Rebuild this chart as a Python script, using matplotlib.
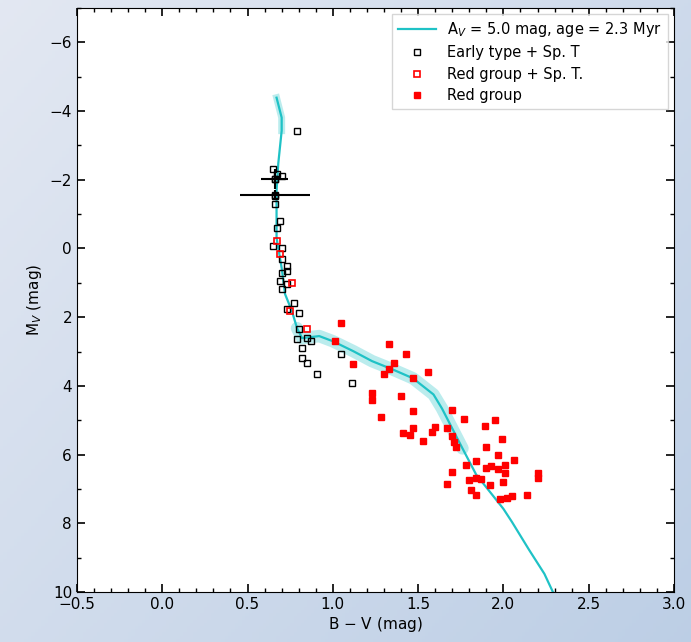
import numpy as np
import matplotlib
matplotlib.use("Agg")
import matplotlib.pyplot as plt
from matplotlib.ticker import MultipleLocator

# isochrone (Av = 5.0 mag, age = 2.3 Myr)
iso_bv = [0.67, 0.70, 0.70, 0.68, 0.67, 0.67, 0.67, 0.70, 0.72, 0.76, 0.79, 0.82,
          0.92, 1.00, 1.12, 1.23, 1.35, 1.47, 1.59, 1.64, 1.70, 1.76, 1.84, 1.92,
          2.00, 2.05, 2.15, 2.24, 2.29]
iso_mv = [-4.39, -3.81, -3.43, -2.47, -1.68, -0.95, -0.31, 0.57, 1.33, 1.82, 2.32, 2.61,
          2.55, 2.70, 2.99, 3.28, 3.52, 3.78, 4.25, 4.66, 5.24, 5.82, 6.58, 7.08,
          7.58, 7.96, 8.77, 9.47, 10.0]

# early type stars with spectral type
early_bv = [0.79, 0.65, 0.67, 0.70, 0.66, 0.66, 0.66, 0.69, 0.67, 0.65, 0.70, 0.70,
            0.73, 0.70, 0.73, 0.69, 0.73, 0.70, 0.77, 0.73, 0.80, 0.80, 0.85, 0.79,
            0.87, 0.82, 0.82, 0.85, 1.05, 0.91, 1.11]
early_mv = [-3.43, -2.32, -2.18, -2.12, -2.03, -1.53, -1.30, -0.80, -0.60, -0.07, 0.00, 0.31,
            0.51, 0.72, 0.66, 0.95, 1.04, 1.18, 1.59, 1.77, 1.88, 2.35, 2.61, 2.64,
            2.70, 2.91, 3.20, 3.34, 3.08, 3.66, 3.93]

# two stars with error bars
err_bv = [0.66, 0.66]
err_mv = [-1.56, -2.02]
err_xerr = [0.205, 0.08]
err_yerr = [0.15, 0.30]

# red group stars with spectral type
redsp_bv = [0.67, 0.69, 0.76, 0.75, 0.85]
redsp_mv = [-0.22, 0.16, 1.01, 1.82, 2.35]

# red group
red_bv = [1.05, 1.01, 1.33, 1.43, 1.12, 1.36, 1.33, 1.30, 1.47, 1.56, 1.23, 1.23,
          1.40, 1.47, 1.28, 1.70, 1.77, 1.95, 1.89, 1.41, 1.45, 1.47, 1.58, 1.60,
          1.67, 1.53, 1.70, 1.71, 1.72, 1.99, 1.90, 1.97, 2.06, 1.78, 1.84, 1.90,
          1.93, 1.97, 2.01, 1.70, 2.01, 1.67, 1.80, 1.84, 1.87, 1.92, 2.00, 1.81,
          1.84, 1.98, 2.02, 2.05, 2.14, 2.20, 2.20]
red_mv = [2.18, 2.70, 2.79, 3.08, 3.37, 3.34, 3.52, 3.66, 3.78, 3.61, 4.22, 4.42,
          4.28, 4.74, 4.92, 4.69, 4.95, 4.98, 5.18, 5.36, 5.42, 5.24, 5.33, 5.21,
          5.24, 5.59, 5.47, 5.62, 5.77, 5.56, 5.77, 6.00, 6.15, 6.29, 6.20, 6.38,
          6.32, 6.41, 6.29, 6.50, 6.55, 6.85, 6.73, 6.67, 6.70, 6.88, 6.79, 7.02,
          7.17, 7.28, 7.26, 7.20, 7.17, 6.55, 6.67]

cyan = '#1fc2c6'

fig = plt.figure(figsize=(6.91, 6.42), dpi=100)

# soft blue-grey gradient behind everything
bg = fig.add_axes([0, 0, 1, 1], zorder=-10)
gx, gy = np.meshgrid(np.linspace(0, 1, 200), np.linspace(0, 1, 200))
g = 0.55 * gx + 0.45 * gy
c0 = np.array([0.89, 0.91, 0.95])
c1 = np.array([0.74, 0.81, 0.90])
bg.imshow(c0 + g[..., None] * (c1 - c0), aspect='auto', extent=[0, 1, 0, 1])
bg.axis('off')

ax = fig.add_axes([0.1114, 0.0779, 0.864, 0.9096])
ax.set_facecolor('white')

# wide faint band along the isochrone, then the line itself
ax.plot(iso_bv[10:22], iso_mv[10:22], color=cyan, lw=9, alpha=0.3, solid_capstyle='round')
ax.plot(iso_bv[:3], iso_mv[:3], color=cyan, lw=5, alpha=0.3)
ax.plot(iso_bv, iso_mv, color=cyan, lw=1.6, label=r'A$_V$ = 5.0 mag, age = 2.3 Myr')

ax.plot(early_bv, early_mv, 's', ms=4.5, mfc='none', mec='black', mew=1.0,
        label='Early type + Sp. T')
ax.errorbar(err_bv, err_mv, xerr=err_xerr, yerr=err_yerr, fmt='s', ms=4.5,
            mfc='none', mec='black', ecolor='black', elinewidth=1.5, capsize=0)
ax.plot(redsp_bv, redsp_mv, 's', ms=5, mfc='none', mec='red', mew=1.2,
        label='Red group + Sp. T.')
ax.plot(red_bv, red_mv, 's', ms=5, color='red', mec='red', label='Red group')

ax.set_xlim(-0.5, 3.0)
ax.set_ylim(10, -7)
ax.xaxis.set_major_locator(MultipleLocator(0.5))
ax.xaxis.set_minor_locator(MultipleLocator(0.1))
ax.yaxis.set_major_locator(MultipleLocator(2))
ax.yaxis.set_minor_locator(MultipleLocator(1))
ax.tick_params(which='both', direction='in', top=True, right=True, labelsize=11)
ax.tick_params(which='major', length=6, width=1.2)
ax.tick_params(which='minor', length=3, width=1)

ax.set_xlabel('B $-$ V (mag)', fontsize=11, labelpad=2)
ax.set_ylabel('M$_V$ (mag)', fontsize=11, labelpad=4)

leg = ax.legend(loc='upper right', fontsize=10.5, frameon=True, fancybox=False,
                borderaxespad=0.4, handlelength=2.6, labelspacing=0.45)
leg.get_frame().set_edgecolor('#cccccc')

fig.savefig('out.png', dpi=100)
